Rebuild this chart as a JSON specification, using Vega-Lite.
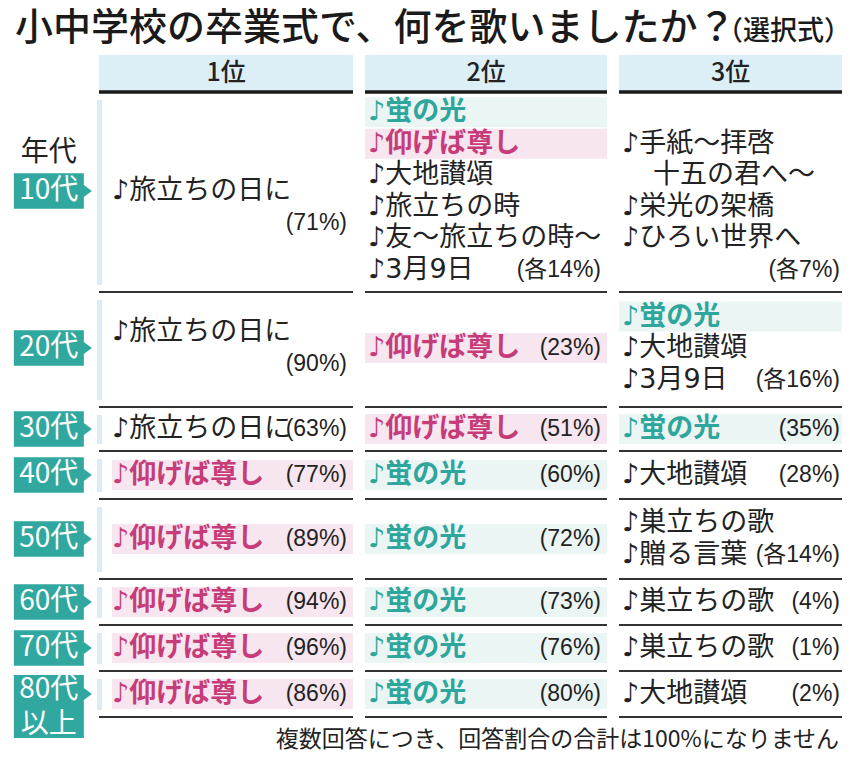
{
  "$schema": "https://vega.github.io/schema/vega-lite/v6.json",
  "background": "white",
  "padding": {"left": 13, "top": 0, "right": 0, "bottom": 0},
  "autosize": {"type": "pad"},
  "bounds": "flush",
  "spacing": 12,
  "config": {"view": {"stroke": null}, "font": "Noto Sans CJK JP", "text": {"font": "Noto Sans CJK JP"}},
  "datasets": {
    "rows": [
      {"row": 1, "age": "10代"}, {"row": 2, "age": "20代"}, {"row": 3, "age": "30代"}, {"row": 4, "age": "40代"},
      {"row": 5, "age": "50代"}, {"row": 6, "age": "60代"}, {"row": 7, "age": "70代"}, {"row": 8, "age": "80代以上"}
    ],
    "labels": [
      {"row": 1, "line": -1.2, "text": "年代", "kind": "head"},
      {"row": 1, "line": 0, "text": "10代", "kind": "age"},
      {"row": 2, "line": 0, "text": "20代", "kind": "age"},
      {"row": 3, "line": 0, "text": "30代", "kind": "age"},
      {"row": 4, "line": 0, "text": "40代", "kind": "age"},
      {"row": 5, "line": 0, "text": "50代", "kind": "age"},
      {"row": 6, "line": 0, "text": "60代", "kind": "age"},
      {"row": 7, "line": 0, "text": "70代", "kind": "age"},
      {"row": 8, "line": -0.13, "text": "80代", "kind": "age"},
      {"row": 8, "line": 0.97, "text": "以上", "kind": "age"}
    ],
    "cells": [
      {"row": 1, "rank": 1, "line": 0, "song": "♪旅立ちの日に", "pct": "", "kind": "plain"},
      {"row": 1, "rank": 1, "line": 1, "song": "", "pct": "(71%)", "kind": "plain"},
      {"row": 1, "rank": 2, "line": -2.5, "song": "♪蛍の光", "pct": "", "kind": "teal"},
      {"row": 1, "rank": 2, "line": -1.5, "song": "♪仰げば尊し", "pct": "", "kind": "pink"},
      {"row": 1, "rank": 2, "line": -0.5, "song": "♪大地讃頌", "pct": "", "kind": "plain"},
      {"row": 1, "rank": 2, "line": 0.5, "song": "♪旅立ちの時", "pct": "", "kind": "plain"},
      {"row": 1, "rank": 2, "line": 1.5, "song": "♪友～旅立ちの時～", "pct": "", "kind": "plain"},
      {"row": 1, "rank": 2, "line": 2.5, "song": "♪3月9日", "pct": "(各14%)", "kind": "plain"},
      {"row": 1, "rank": 3, "line": -1.5, "song": "♪手紙～拝啓", "pct": "", "kind": "plain"},
      {"row": 1, "rank": 3, "line": -0.5, "song": "十五の君へ～", "pct": "", "kind": "indent"},
      {"row": 1, "rank": 3, "line": 0.5, "song": "♪栄光の架橋", "pct": "", "kind": "plain"},
      {"row": 1, "rank": 3, "line": 1.5, "song": "♪ひろい世界へ", "pct": "", "kind": "plain"},
      {"row": 1, "rank": 3, "line": 2.5, "song": "", "pct": "(各7%)", "kind": "plain"},
      {"row": 2, "rank": 1, "line": -0.5, "song": "♪旅立ちの日に", "pct": "", "kind": "plain"},
      {"row": 2, "rank": 1, "line": 0.5, "song": "", "pct": "(90%)", "kind": "plain"},
      {"row": 2, "rank": 2, "line": 0, "song": "♪仰げば尊し", "pct": "(23%)", "kind": "pink"},
      {"row": 2, "rank": 3, "line": -1, "song": "♪蛍の光", "pct": "", "kind": "teal"},
      {"row": 2, "rank": 3, "line": 0, "song": "♪大地讃頌", "pct": "", "kind": "plain"},
      {"row": 2, "rank": 3, "line": 1, "song": "♪3月9日", "pct": "(各16%)", "kind": "plain"},
      {"row": 3, "rank": 1, "line": 0, "song": "♪旅立ちの日に", "pct": "(63%)", "kind": "plain"},
      {"row": 3, "rank": 2, "line": 0, "song": "♪仰げば尊し", "pct": "(51%)", "kind": "pink"},
      {"row": 3, "rank": 3, "line": 0, "song": "♪蛍の光", "pct": "(35%)", "kind": "teal"},
      {"row": 4, "rank": 1, "line": 0, "song": "♪仰げば尊し", "pct": "(77%)", "kind": "pink"},
      {"row": 4, "rank": 2, "line": 0, "song": "♪蛍の光", "pct": "(60%)", "kind": "teal"},
      {"row": 4, "rank": 3, "line": 0, "song": "♪大地讃頌", "pct": "(28%)", "kind": "plain"},
      {"row": 5, "rank": 1, "line": 0, "song": "♪仰げば尊し", "pct": "(89%)", "kind": "pink"},
      {"row": 5, "rank": 2, "line": 0, "song": "♪蛍の光", "pct": "(72%)", "kind": "teal"},
      {"row": 5, "rank": 3, "line": -0.5, "song": "♪巣立ちの歌", "pct": "", "kind": "plain"},
      {"row": 5, "rank": 3, "line": 0.5, "song": "♪贈る言葉", "pct": "(各14%)", "kind": "plain"},
      {"row": 6, "rank": 1, "line": 0, "song": "♪仰げば尊し", "pct": "(94%)", "kind": "pink"},
      {"row": 6, "rank": 2, "line": 0, "song": "♪蛍の光", "pct": "(73%)", "kind": "teal"},
      {"row": 6, "rank": 3, "line": 0, "song": "♪巣立ちの歌", "pct": "(4%)", "kind": "plain"},
      {"row": 7, "rank": 1, "line": 0, "song": "♪仰げば尊し", "pct": "(96%)", "kind": "pink"},
      {"row": 7, "rank": 2, "line": 0, "song": "♪蛍の光", "pct": "(76%)", "kind": "teal"},
      {"row": 7, "rank": 3, "line": 0, "song": "♪巣立ちの歌", "pct": "(1%)", "kind": "plain"},
      {"row": 8, "rank": 1, "line": 0, "song": "♪仰げば尊し", "pct": "(86%)", "kind": "pink"},
      {"row": 8, "rank": 2, "line": 0, "song": "♪蛍の光", "pct": "(80%)", "kind": "teal"},
      {"row": 8, "rank": 3, "line": 0, "song": "♪大地讃頌", "pct": "(2%)", "kind": "plain"}
    ]
  },
  "hconcat": [
    {
      "width": 72, "height": 758,
      "layer": [
        {"data": {"values": [{}]},
         "mark": {"type": "text", "fontSize": 38, "fontWeight": 500, "align": "left", "baseline": "middle", "color": "#1a1a1a"},
         "encoding": {"x": {"datum": 0, "type": "quantitative", "scale": {"domain": [0, 1], "zero": false, "nice": false}, "axis": null},
                      "y": {"datum": -1.5, "type": "quantitative", "scale": {"type": "linear", "domain": [-1.5,-0.5,0,0.5,1,1.5,2,2.5,3,3.5,4,4.5,5,5.5,6,6.5,7,7.5,8,8.5,9], "range": [29,55,73,92,191,292,348,407,429,451,475,499,539,579,602,625,648,671,694,717,740], "zero": false, "nice": false}, "axis": null},
                      "text": {"value": "小中学校の卒業式で、何を歌いましたか？"}}},
        {"data": {"name": "rows"}, "transform": [{"filter": "datum.row < 8"}],
         "mark": {"type": "point", "shape": "M-1,-0.51H1V-0.17L1.23,0L1,0.17V0.51H-1Z", "filled": true, "size": 4900, "opacity": 1, "color": "#31a89f", "strokeWidth": 0},
         "encoding": {"x": {"datum": 0.47, "type": "quantitative", "scale": {"domain": [0, 1], "zero": false, "nice": false}, "axis": null},
                      "y": {"field": "row", "type": "quantitative", "scale": {"type": "linear", "domain": [-1.5,-0.5,0,0.5,1,1.5,2,2.5,3,3.5,4,4.5,5,5.5,6,6.5,7,7.5,8,8.5,9], "range": [29,55,73,92,191,292,348,407,429,451,475,499,539,579,602,625,648,671,694,717,740], "zero": false, "nice": false}, "axis": null}}},
        {"data": {"name": "rows"}, "transform": [{"filter": "datum.row == 8"}],
         "mark": {"type": "point", "shape": "M-1,-0.54H1V-0.17L1.23,0L1,0.17V1.26H-1Z", "filled": true, "size": 4900, "opacity": 1, "color": "#31a89f", "strokeWidth": 0},
         "encoding": {"x": {"datum": 0.47, "type": "quantitative", "scale": {"domain": [0, 1], "zero": false, "nice": false}, "axis": null},
                      "y": {"field": "row", "type": "quantitative", "scale": {"type": "linear", "domain": [-1.5,-0.5,0,0.5,1,1.5,2,2.5,3,3.5,4,4.5,5,5.5,6,6.5,7,7.5,8,8.5,9], "range": [29,55,73,92,191,292,348,407,429,451,475,499,539,579,602,625,648,671,694,717,740], "zero": false, "nice": false}, "axis": null}}},
        {"data": {"name": "labels"}, "transform": [{"filter": "datum.kind == 'head'"}],
         "mark": {"type": "text", "fontSize": 28, "align": "center", "baseline": "middle", "color": "#222", "yOffset": {"expr": "datum.line*31.5"}},
         "encoding": {"x": {"datum": 0.47, "type": "quantitative", "scale": {"domain": [0, 1], "zero": false, "nice": false}, "axis": null},
                      "y": {"field": "row", "type": "quantitative", "scale": {"type": "linear", "domain": [-1.5,-0.5,0,0.5,1,1.5,2,2.5,3,3.5,4,4.5,5,5.5,6,6.5,7,7.5,8,8.5,9], "range": [29,55,73,92,191,292,348,407,429,451,475,499,539,579,602,625,648,671,694,717,740], "zero": false, "nice": false}, "axis": null},
                      "text": {"field": "text"}}},
        {"data": {"name": "labels"}, "transform": [{"filter": "datum.kind == 'age'"}],
         "mark": {"type": "text", "fontSize": 28, "align": "center", "baseline": "middle", "color": "#ffffff", "yOffset": {"expr": "datum.line*31.5"}},
         "encoding": {"x": {"datum": 0.47, "type": "quantitative", "scale": {"domain": [0, 1], "zero": false, "nice": false}, "axis": null},
                      "y": {"field": "row", "type": "quantitative", "scale": {"type": "linear", "domain": [-1.5,-0.5,0,0.5,1,1.5,2,2.5,3,3.5,4,4.5,5,5.5,6,6.5,7,7.5,8,8.5,9], "range": [29,55,73,92,191,292,348,407,429,451,475,499,539,579,602,625,648,671,694,717,740], "zero": false, "nice": false}, "axis": null},
                      "text": {"field": "text"}}}
      ]
    },
    {
      "width": 254, "height": 758,
      "layer": [
        {"data": {"values": [{}]}, "mark": {"type": "rect", "color": "#dceef6"},
         "encoding": {"x": {"datum": 0, "type": "quantitative", "scale": {"domain": [0, 1], "zero": false, "nice": false}, "axis": null}, "x2": {"datum": 1},
                      "y": {"datum": -0.5, "type": "quantitative", "scale": {"type": "linear", "domain": [-1.5,-0.5,0,0.5,1,1.5,2,2.5,3,3.5,4,4.5,5,5.5,6,6.5,7,7.5,8,8.5,9], "range": [29,55,73,92,191,292,348,407,429,451,475,499,539,579,602,625,648,671,694,717,740], "zero": false, "nice": false}, "axis": null}, "y2": {"datum": 0.5}}},
        {"data": {"values": [{}]}, "mark": {"type": "text", "fontSize": 25, "fontWeight": 500, "align": "center", "baseline": "middle", "color": "#222"},
         "encoding": {"x": {"datum": 0.5, "type": "quantitative", "scale": {"domain": [0, 1], "zero": false, "nice": false}, "axis": null},
                      "y": {"datum": 0, "type": "quantitative", "scale": {"type": "linear", "domain": [-1.5,-0.5,0,0.5,1,1.5,2,2.5,3,3.5,4,4.5,5,5.5,6,6.5,7,7.5,8,8.5,9], "range": [29,55,73,92,191,292,348,407,429,451,475,499,539,579,602,625,648,671,694,717,740], "zero": false, "nice": false}, "axis": null},
                      "text": {"value": "1位"}}},
        {"data": {"name": "rows"}, "transform": [{"calculate": "datum.row - 0.5", "as": "top"}, {"calculate": "datum.row + 0.5", "as": "bot"}],
         "mark": {"type": "rect", "color": "#deebf5", "xOffset": -2, "x2Offset": 3, "yOffset": 8, "y2Offset": -7},
         "encoding": {"x": {"datum": 0, "type": "quantitative", "scale": {"domain": [0, 1], "zero": false, "nice": false}, "axis": null}, "x2": {"datum": 0},
                      "y": {"field": "top", "type": "quantitative", "scale": {"type": "linear", "domain": [-1.5,-0.5,0,0.5,1,1.5,2,2.5,3,3.5,4,4.5,5,5.5,6,6.5,7,7.5,8,8.5,9], "range": [29,55,73,92,191,292,348,407,429,451,475,499,539,579,602,625,648,671,694,717,740], "zero": false, "nice": false}, "axis": null}, "y2": {"field": "bot"}}},
        {"data": {"name": "cells"}, "transform": [{"filter": "datum.rank == 1 && datum.kind == 'pink'"}],
         "mark": {"type": "rect", "color": "#f7e5ef", "xOffset": 13, "yOffset": {"expr": "datum.line*31.5 - 15"}, "y2Offset": {"expr": "datum.line*31.5 + 15"}},
         "encoding": {"x": {"datum": 0, "type": "quantitative", "scale": {"domain": [0, 1], "zero": false, "nice": false}, "axis": null}, "x2": {"datum": 1},
                      "y": {"field": "row", "type": "quantitative", "scale": {"type": "linear", "domain": [-1.5,-0.5,0,0.5,1,1.5,2,2.5,3,3.5,4,4.5,5,5.5,6,6.5,7,7.5,8,8.5,9], "range": [29,55,73,92,191,292,348,407,429,451,475,499,539,579,602,625,648,671,694,717,740], "zero": false, "nice": false}, "axis": null}, "y2": {"field": "row"}}},
        {"data": {"name": "rows"}, "transform": [{"calculate": "datum.row + 0.5", "as": "bot"}],
         "mark": {"type": "rule", "color": "#333", "strokeWidth": 2},
         "encoding": {"x": {"datum": 0, "type": "quantitative", "scale": {"domain": [0, 1], "zero": false, "nice": false}, "axis": null}, "x2": {"datum": 1},
                      "y": {"field": "bot", "type": "quantitative", "scale": {"type": "linear", "domain": [-1.5,-0.5,0,0.5,1,1.5,2,2.5,3,3.5,4,4.5,5,5.5,6,6.5,7,7.5,8,8.5,9], "range": [29,55,73,92,191,292,348,407,429,451,475,499,539,579,602,625,648,671,694,717,740], "zero": false, "nice": false}, "axis": null}}},
        {"data": {"values": [{}]}, "mark": {"type": "rule", "color": "#1a1a1a", "strokeWidth": 3.5},
         "encoding": {"x": {"datum": 0, "type": "quantitative", "scale": {"domain": [0, 1], "zero": false, "nice": false}, "axis": null}, "x2": {"datum": 1},
                      "y": {"datum": 0.5, "type": "quantitative", "scale": {"type": "linear", "domain": [-1.5,-0.5,0,0.5,1,1.5,2,2.5,3,3.5,4,4.5,5,5.5,6,6.5,7,7.5,8,8.5,9], "range": [29,55,73,92,191,292,348,407,429,451,475,499,539,579,602,625,648,671,694,717,740], "zero": false, "nice": false}, "axis": null}}},
        {"data": {"name": "cells"}, "transform": [{"filter": "datum.rank == 1 && datum.kind == 'plain'"}],
         "mark": {"type": "text", "font": "DejaVu Sans, Noto Sans CJK JP", "fontSize": 27, "align": "left", "baseline": "middle", "dx": 13, "color": "#222", "yOffset": {"expr": "datum.line*31.5"}},
         "encoding": {"x": {"datum": 0, "type": "quantitative", "scale": {"domain": [0, 1], "zero": false, "nice": false}, "axis": null},
                      "y": {"field": "row", "type": "quantitative", "scale": {"type": "linear", "domain": [-1.5,-0.5,0,0.5,1,1.5,2,2.5,3,3.5,4,4.5,5,5.5,6,6.5,7,7.5,8,8.5,9], "range": [29,55,73,92,191,292,348,407,429,451,475,499,539,579,602,625,648,671,694,717,740], "zero": false, "nice": false}, "axis": null},
                      "text": {"field": "song"}}},
        {"data": {"name": "cells"}, "transform": [{"filter": "datum.rank == 1 && datum.kind == 'pink'"}],
         "mark": {"type": "text", "font": "DejaVu Sans, Noto Sans CJK JP", "fontSize": 27, "fontWeight": "bold", "align": "left", "baseline": "middle", "dx": 13, "color": "#c63c78", "yOffset": {"expr": "datum.line*31.5"}},
         "encoding": {"x": {"datum": 0, "type": "quantitative", "scale": {"domain": [0, 1], "zero": false, "nice": false}, "axis": null},
                      "y": {"field": "row", "type": "quantitative", "scale": {"type": "linear", "domain": [-1.5,-0.5,0,0.5,1,1.5,2,2.5,3,3.5,4,4.5,5,5.5,6,6.5,7,7.5,8,8.5,9], "range": [29,55,73,92,191,292,348,407,429,451,475,499,539,579,602,625,648,671,694,717,740], "zero": false, "nice": false}, "axis": null},
                      "text": {"field": "song"}}},
        {"data": {"name": "cells"}, "transform": [{"filter": "datum.rank == 1"}],
         "mark": {"type": "text", "font": "Liberation Sans, Noto Sans CJK JP", "fontSize": 23, "align": "right", "baseline": "middle", "dx": -6, "color": "#222", "yOffset": {"expr": "datum.line*31.5"}},
         "encoding": {"x": {"datum": 1, "type": "quantitative", "scale": {"domain": [0, 1], "zero": false, "nice": false}, "axis": null},
                      "y": {"field": "row", "type": "quantitative", "scale": {"type": "linear", "domain": [-1.5,-0.5,0,0.5,1,1.5,2,2.5,3,3.5,4,4.5,5,5.5,6,6.5,7,7.5,8,8.5,9], "range": [29,55,73,92,191,292,348,407,429,451,475,499,539,579,602,625,648,671,694,717,740], "zero": false, "nice": false}, "axis": null},
                      "text": {"field": "pct"}}}
      ]
    },
    {
      "width": 242, "height": 758,
      "layer": [
        {"data": {"values": [{}]}, "mark": {"type": "rect", "color": "#dceef6"},
         "encoding": {"x": {"datum": 0, "type": "quantitative", "scale": {"domain": [0, 1], "zero": false, "nice": false}, "axis": null}, "x2": {"datum": 1},
                      "y": {"datum": -0.5, "type": "quantitative", "scale": {"type": "linear", "domain": [-1.5,-0.5,0,0.5,1,1.5,2,2.5,3,3.5,4,4.5,5,5.5,6,6.5,7,7.5,8,8.5,9], "range": [29,55,73,92,191,292,348,407,429,451,475,499,539,579,602,625,648,671,694,717,740], "zero": false, "nice": false}, "axis": null}, "y2": {"datum": 0.5}}},
        {"data": {"values": [{}]}, "mark": {"type": "text", "fontSize": 25, "fontWeight": 500, "align": "center", "baseline": "middle", "color": "#222"},
         "encoding": {"x": {"datum": 0.5, "type": "quantitative", "scale": {"domain": [0, 1], "zero": false, "nice": false}, "axis": null},
                      "y": {"datum": 0, "type": "quantitative", "scale": {"type": "linear", "domain": [-1.5,-0.5,0,0.5,1,1.5,2,2.5,3,3.5,4,4.5,5,5.5,6,6.5,7,7.5,8,8.5,9], "range": [29,55,73,92,191,292,348,407,429,451,475,499,539,579,602,625,648,671,694,717,740], "zero": false, "nice": false}, "axis": null},
                      "text": {"value": "2位"}}},
        {"data": {"name": "cells"}, "transform": [{"filter": "datum.rank == 2 && datum.kind == 'pink'"}],
         "mark": {"type": "rect", "color": "#f7e5ef", "yOffset": {"expr": "datum.line*31.5 - 15"}, "y2Offset": {"expr": "datum.line*31.5 + 15"}},
         "encoding": {"x": {"datum": 0, "type": "quantitative", "scale": {"domain": [0, 1], "zero": false, "nice": false}, "axis": null}, "x2": {"datum": 1},
                      "y": {"field": "row", "type": "quantitative", "scale": {"type": "linear", "domain": [-1.5,-0.5,0,0.5,1,1.5,2,2.5,3,3.5,4,4.5,5,5.5,6,6.5,7,7.5,8,8.5,9], "range": [29,55,73,92,191,292,348,407,429,451,475,499,539,579,602,625,648,671,694,717,740], "zero": false, "nice": false}, "axis": null}, "y2": {"field": "row"}}},
        {"data": {"name": "cells"}, "transform": [{"filter": "datum.rank == 2 && datum.kind == 'teal'"}],
         "mark": {"type": "rect", "color": "#eaf5f4", "yOffset": {"expr": "datum.line*31.5 - 15"}, "y2Offset": {"expr": "datum.line*31.5 + 15"}},
         "encoding": {"x": {"datum": 0, "type": "quantitative", "scale": {"domain": [0, 1], "zero": false, "nice": false}, "axis": null}, "x2": {"datum": 1},
                      "y": {"field": "row", "type": "quantitative", "scale": {"type": "linear", "domain": [-1.5,-0.5,0,0.5,1,1.5,2,2.5,3,3.5,4,4.5,5,5.5,6,6.5,7,7.5,8,8.5,9], "range": [29,55,73,92,191,292,348,407,429,451,475,499,539,579,602,625,648,671,694,717,740], "zero": false, "nice": false}, "axis": null}, "y2": {"field": "row"}}},
        {"data": {"name": "rows"}, "transform": [{"calculate": "datum.row + 0.5", "as": "bot"}],
         "mark": {"type": "rule", "color": "#333", "strokeWidth": 2},
         "encoding": {"x": {"datum": 0, "type": "quantitative", "scale": {"domain": [0, 1], "zero": false, "nice": false}, "axis": null}, "x2": {"datum": 1},
                      "y": {"field": "bot", "type": "quantitative", "scale": {"type": "linear", "domain": [-1.5,-0.5,0,0.5,1,1.5,2,2.5,3,3.5,4,4.5,5,5.5,6,6.5,7,7.5,8,8.5,9], "range": [29,55,73,92,191,292,348,407,429,451,475,499,539,579,602,625,648,671,694,717,740], "zero": false, "nice": false}, "axis": null}}},
        {"data": {"values": [{}]}, "mark": {"type": "rule", "color": "#1a1a1a", "strokeWidth": 3.5},
         "encoding": {"x": {"datum": 0, "type": "quantitative", "scale": {"domain": [0, 1], "zero": false, "nice": false}, "axis": null}, "x2": {"datum": 1},
                      "y": {"datum": 0.5, "type": "quantitative", "scale": {"type": "linear", "domain": [-1.5,-0.5,0,0.5,1,1.5,2,2.5,3,3.5,4,4.5,5,5.5,6,6.5,7,7.5,8,8.5,9], "range": [29,55,73,92,191,292,348,407,429,451,475,499,539,579,602,625,648,671,694,717,740], "zero": false, "nice": false}, "axis": null}}},
        {"data": {"name": "cells"}, "transform": [{"filter": "datum.rank == 2 && datum.kind == 'plain'"}],
         "mark": {"type": "text", "font": "DejaVu Sans, Noto Sans CJK JP", "fontSize": 27, "align": "left", "baseline": "middle", "dx": 3, "color": "#222", "yOffset": {"expr": "datum.line*31.5"}},
         "encoding": {"x": {"datum": 0, "type": "quantitative", "scale": {"domain": [0, 1], "zero": false, "nice": false}, "axis": null},
                      "y": {"field": "row", "type": "quantitative", "scale": {"type": "linear", "domain": [-1.5,-0.5,0,0.5,1,1.5,2,2.5,3,3.5,4,4.5,5,5.5,6,6.5,7,7.5,8,8.5,9], "range": [29,55,73,92,191,292,348,407,429,451,475,499,539,579,602,625,648,671,694,717,740], "zero": false, "nice": false}, "axis": null},
                      "text": {"field": "song"}}},
        {"data": {"name": "cells"}, "transform": [{"filter": "datum.rank == 2 && datum.kind == 'pink'"}],
         "mark": {"type": "text", "font": "DejaVu Sans, Noto Sans CJK JP", "fontSize": 27, "fontWeight": "bold", "align": "left", "baseline": "middle", "dx": 3, "color": "#c63c78", "yOffset": {"expr": "datum.line*31.5"}},
         "encoding": {"x": {"datum": 0, "type": "quantitative", "scale": {"domain": [0, 1], "zero": false, "nice": false}, "axis": null},
                      "y": {"field": "row", "type": "quantitative", "scale": {"type": "linear", "domain": [-1.5,-0.5,0,0.5,1,1.5,2,2.5,3,3.5,4,4.5,5,5.5,6,6.5,7,7.5,8,8.5,9], "range": [29,55,73,92,191,292,348,407,429,451,475,499,539,579,602,625,648,671,694,717,740], "zero": false, "nice": false}, "axis": null},
                      "text": {"field": "song"}}},
        {"data": {"name": "cells"}, "transform": [{"filter": "datum.rank == 2 && datum.kind == 'teal'"}],
         "mark": {"type": "text", "font": "DejaVu Sans, Noto Sans CJK JP", "fontSize": 27, "fontWeight": "bold", "align": "left", "baseline": "middle", "dx": 3, "color": "#2fa69c", "yOffset": {"expr": "datum.line*31.5"}},
         "encoding": {"x": {"datum": 0, "type": "quantitative", "scale": {"domain": [0, 1], "zero": false, "nice": false}, "axis": null},
                      "y": {"field": "row", "type": "quantitative", "scale": {"type": "linear", "domain": [-1.5,-0.5,0,0.5,1,1.5,2,2.5,3,3.5,4,4.5,5,5.5,6,6.5,7,7.5,8,8.5,9], "range": [29,55,73,92,191,292,348,407,429,451,475,499,539,579,602,625,648,671,694,717,740], "zero": false, "nice": false}, "axis": null},
                      "text": {"field": "song"}}},
        {"data": {"name": "cells"}, "transform": [{"filter": "datum.rank == 2"}],
         "mark": {"type": "text", "font": "Liberation Sans, Noto Sans CJK JP", "fontSize": 23, "align": "right", "baseline": "middle", "dx": -6, "color": "#222", "yOffset": {"expr": "datum.line*31.5"}},
         "encoding": {"x": {"datum": 1, "type": "quantitative", "scale": {"domain": [0, 1], "zero": false, "nice": false}, "axis": null},
                      "y": {"field": "row", "type": "quantitative", "scale": {"type": "linear", "domain": [-1.5,-0.5,0,0.5,1,1.5,2,2.5,3,3.5,4,4.5,5,5.5,6,6.5,7,7.5,8,8.5,9], "range": [29,55,73,92,191,292,348,407,429,451,475,499,539,579,602,625,648,671,694,717,740], "zero": false, "nice": false}, "axis": null},
                      "text": {"field": "pct"}}}
      ]
    },
    {
      "width": 223, "height": 758,
      "layer": [
        {"data": {"values": [{}]}, "mark": {"type": "rect", "color": "#dceef6"},
         "encoding": {"x": {"datum": 0, "type": "quantitative", "scale": {"domain": [0, 1], "zero": false, "nice": false}, "axis": null}, "x2": {"datum": 1},
                      "y": {"datum": -0.5, "type": "quantitative", "scale": {"type": "linear", "domain": [-1.5,-0.5,0,0.5,1,1.5,2,2.5,3,3.5,4,4.5,5,5.5,6,6.5,7,7.5,8,8.5,9], "range": [29,55,73,92,191,292,348,407,429,451,475,499,539,579,602,625,648,671,694,717,740], "zero": false, "nice": false}, "axis": null}, "y2": {"datum": 0.5}}},
        {"data": {"values": [{}]}, "mark": {"type": "text", "fontSize": 25, "fontWeight": 500, "align": "center", "baseline": "middle", "color": "#222"},
         "encoding": {"x": {"datum": 0.5, "type": "quantitative", "scale": {"domain": [0, 1], "zero": false, "nice": false}, "axis": null},
                      "y": {"datum": 0, "type": "quantitative", "scale": {"type": "linear", "domain": [-1.5,-0.5,0,0.5,1,1.5,2,2.5,3,3.5,4,4.5,5,5.5,6,6.5,7,7.5,8,8.5,9], "range": [29,55,73,92,191,292,348,407,429,451,475,499,539,579,602,625,648,671,694,717,740], "zero": false, "nice": false}, "axis": null},
                      "text": {"value": "3位"}}},
        {"data": {"values": [{}]}, "mark": {"type": "text", "fontSize": 27, "fontWeight": 500, "align": "right", "baseline": "middle", "dx": 9, "dy": 3, "color": "#1a1a1a"},
         "encoding": {"x": {"datum": 1, "type": "quantitative", "scale": {"domain": [0, 1], "zero": false, "nice": false}, "axis": null},
                      "y": {"datum": -1.5, "type": "quantitative", "scale": {"type": "linear", "domain": [-1.5,-0.5,0,0.5,1,1.5,2,2.5,3,3.5,4,4.5,5,5.5,6,6.5,7,7.5,8,8.5,9], "range": [29,55,73,92,191,292,348,407,429,451,475,499,539,579,602,625,648,671,694,717,740], "zero": false, "nice": false}, "axis": null},
                      "text": {"value": "（選択式）"}}},
        {"data": {"name": "cells"}, "transform": [{"filter": "datum.rank == 3 && datum.kind == 'teal'"}],
         "mark": {"type": "rect", "color": "#eaf5f4", "yOffset": {"expr": "datum.line*31.5 - 15"}, "y2Offset": {"expr": "datum.line*31.5 + 15"}},
         "encoding": {"x": {"datum": 0, "type": "quantitative", "scale": {"domain": [0, 1], "zero": false, "nice": false}, "axis": null}, "x2": {"datum": 1},
                      "y": {"field": "row", "type": "quantitative", "scale": {"type": "linear", "domain": [-1.5,-0.5,0,0.5,1,1.5,2,2.5,3,3.5,4,4.5,5,5.5,6,6.5,7,7.5,8,8.5,9], "range": [29,55,73,92,191,292,348,407,429,451,475,499,539,579,602,625,648,671,694,717,740], "zero": false, "nice": false}, "axis": null}, "y2": {"field": "row"}}},
        {"data": {"name": "rows"}, "transform": [{"calculate": "datum.row + 0.5", "as": "bot"}],
         "mark": {"type": "rule", "color": "#333", "strokeWidth": 2},
         "encoding": {"x": {"datum": 0, "type": "quantitative", "scale": {"domain": [0, 1], "zero": false, "nice": false}, "axis": null}, "x2": {"datum": 1},
                      "y": {"field": "bot", "type": "quantitative", "scale": {"type": "linear", "domain": [-1.5,-0.5,0,0.5,1,1.5,2,2.5,3,3.5,4,4.5,5,5.5,6,6.5,7,7.5,8,8.5,9], "range": [29,55,73,92,191,292,348,407,429,451,475,499,539,579,602,625,648,671,694,717,740], "zero": false, "nice": false}, "axis": null}}},
        {"data": {"values": [{}]}, "mark": {"type": "rule", "color": "#1a1a1a", "strokeWidth": 3.5},
         "encoding": {"x": {"datum": 0, "type": "quantitative", "scale": {"domain": [0, 1], "zero": false, "nice": false}, "axis": null}, "x2": {"datum": 1},
                      "y": {"datum": 0.5, "type": "quantitative", "scale": {"type": "linear", "domain": [-1.5,-0.5,0,0.5,1,1.5,2,2.5,3,3.5,4,4.5,5,5.5,6,6.5,7,7.5,8,8.5,9], "range": [29,55,73,92,191,292,348,407,429,451,475,499,539,579,602,625,648,671,694,717,740], "zero": false, "nice": false}, "axis": null}}},
        {"data": {"name": "cells"}, "transform": [{"filter": "datum.rank == 3 && datum.kind == 'plain'"}],
         "mark": {"type": "text", "font": "DejaVu Sans, Noto Sans CJK JP", "fontSize": 27, "align": "left", "baseline": "middle", "dx": 3, "color": "#222", "yOffset": {"expr": "datum.line*31.5"}},
         "encoding": {"x": {"datum": 0, "type": "quantitative", "scale": {"domain": [0, 1], "zero": false, "nice": false}, "axis": null},
                      "y": {"field": "row", "type": "quantitative", "scale": {"type": "linear", "domain": [-1.5,-0.5,0,0.5,1,1.5,2,2.5,3,3.5,4,4.5,5,5.5,6,6.5,7,7.5,8,8.5,9], "range": [29,55,73,92,191,292,348,407,429,451,475,499,539,579,602,625,648,671,694,717,740], "zero": false, "nice": false}, "axis": null},
                      "text": {"field": "song"}}},
        {"data": {"name": "cells"}, "transform": [{"filter": "datum.rank == 3 && datum.kind == 'indent'"}],
         "mark": {"type": "text", "font": "DejaVu Sans, Noto Sans CJK JP", "fontSize": 27, "align": "left", "baseline": "middle", "dx": 34, "color": "#222", "yOffset": {"expr": "datum.line*31.5"}},
         "encoding": {"x": {"datum": 0, "type": "quantitative", "scale": {"domain": [0, 1], "zero": false, "nice": false}, "axis": null},
                      "y": {"field": "row", "type": "quantitative", "scale": {"type": "linear", "domain": [-1.5,-0.5,0,0.5,1,1.5,2,2.5,3,3.5,4,4.5,5,5.5,6,6.5,7,7.5,8,8.5,9], "range": [29,55,73,92,191,292,348,407,429,451,475,499,539,579,602,625,648,671,694,717,740], "zero": false, "nice": false}, "axis": null},
                      "text": {"field": "song"}}},
        {"data": {"name": "cells"}, "transform": [{"filter": "datum.rank == 3 && datum.kind == 'teal'"}],
         "mark": {"type": "text", "font": "DejaVu Sans, Noto Sans CJK JP", "fontSize": 27, "fontWeight": "bold", "align": "left", "baseline": "middle", "dx": 3, "color": "#2fa69c", "yOffset": {"expr": "datum.line*31.5"}},
         "encoding": {"x": {"datum": 0, "type": "quantitative", "scale": {"domain": [0, 1], "zero": false, "nice": false}, "axis": null},
                      "y": {"field": "row", "type": "quantitative", "scale": {"type": "linear", "domain": [-1.5,-0.5,0,0.5,1,1.5,2,2.5,3,3.5,4,4.5,5,5.5,6,6.5,7,7.5,8,8.5,9], "range": [29,55,73,92,191,292,348,407,429,451,475,499,539,579,602,625,648,671,694,717,740], "zero": false, "nice": false}, "axis": null},
                      "text": {"field": "song"}}},
        {"data": {"name": "cells"}, "transform": [{"filter": "datum.rank == 3"}],
         "mark": {"type": "text", "font": "Liberation Sans, Noto Sans CJK JP", "fontSize": 23, "align": "right", "baseline": "middle", "dx": -2, "color": "#222", "yOffset": {"expr": "datum.line*31.5"}},
         "encoding": {"x": {"datum": 1, "type": "quantitative", "scale": {"domain": [0, 1], "zero": false, "nice": false}, "axis": null},
                      "y": {"field": "row", "type": "quantitative", "scale": {"type": "linear", "domain": [-1.5,-0.5,0,0.5,1,1.5,2,2.5,3,3.5,4,4.5,5,5.5,6,6.5,7,7.5,8,8.5,9], "range": [29,55,73,92,191,292,348,407,429,451,475,499,539,579,602,625,648,671,694,717,740], "zero": false, "nice": false}, "axis": null},
                      "text": {"field": "pct"}}},
        {"data": {"values": [{}]}, "mark": {"type": "text", "fontSize": 23, "align": "right", "baseline": "middle", "dx": -3, "color": "#222"},
         "encoding": {"x": {"datum": 1, "type": "quantitative", "scale": {"domain": [0, 1], "zero": false, "nice": false}, "axis": null},
                      "y": {"datum": 9, "type": "quantitative", "scale": {"type": "linear", "domain": [-1.5,-0.5,0,0.5,1,1.5,2,2.5,3,3.5,4,4.5,5,5.5,6,6.5,7,7.5,8,8.5,9], "range": [29,55,73,92,191,292,348,407,429,451,475,499,539,579,602,625,648,671,694,717,740], "zero": false, "nice": false}, "axis": null},
                      "text": {"value": "複数回答につき、回答割合の合計は100%になりません"}}}
      ]
    }
  ]
}
